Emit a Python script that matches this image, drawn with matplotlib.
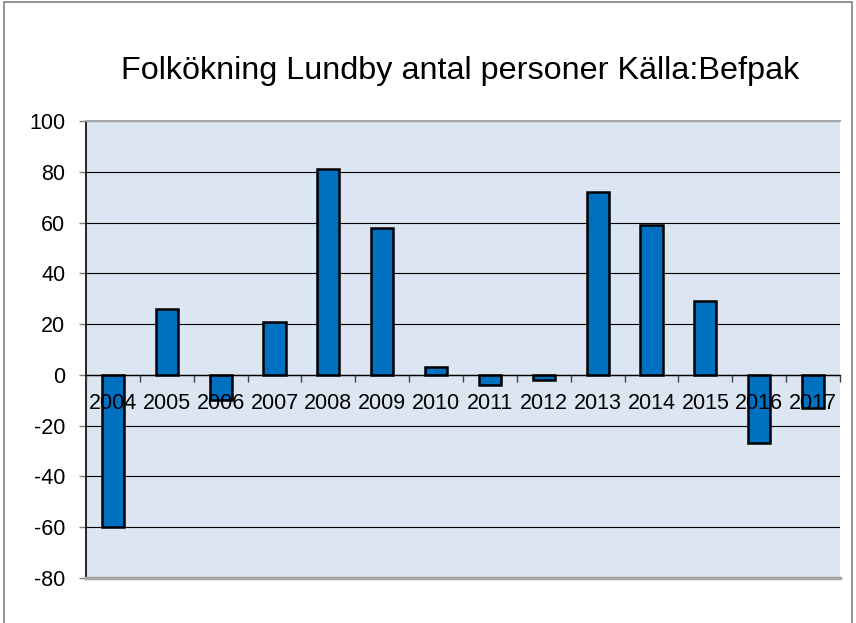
import numpy as np
import matplotlib.pyplot as plt
from matplotlib.patches import Rectangle

# Data
years = ['2004', '2005', '2006', '2007', '2008', '2009', '2010',
         '2011', '2012', '2013', '2014', '2015', '2016', '2017']
growth = [-60, 26, -10, 21, 81, 58, 3, -4, -2, 72, 59, 29, -27, -13]
y_ticks = [-80, -60, -40, -20, 0, 20, 40, 60, 80, 100]

TITLE = 'Folkökning Lundby antal personer Källa:Befpak'
COLOR_BAR = '#0070C0'
COLOR_BG = '#DCE6F2'
COLOR_FRAME = '#808080'

plt.rcParams['font.family'] = ['Liberation Sans', 'DejaVu Sans']
plt.rcParams['axes.unicode_minus'] = False

fig = plt.figure(figsize=(8.56, 6.23), dpi=100)
ax = fig.add_axes([86 / 856, 1 - 578 / 623, 754 / 856, 457 / 623])
ax.set_facecolor(COLOR_BG)

x = np.arange(len(years))
ax.bar(x, growth, width=0.41, color=COLOR_BAR, edgecolor='black',
       linewidth=1.8, zorder=3)

ax.set_xlim(-0.5, len(years) - 0.5)
ax.set_ylim(y_ticks[0], y_ticks[-1])
ax.set_yticks(y_ticks)
ax.yaxis.grid(True, color='black', linewidth=0.8)
# grid below the bars, category labels on top of them
ax.yaxis.set_zorder(0.5)
ax.xaxis.set_zorder(5)

# category axis sits on the zero line
ax.spines['bottom'].set_position(('data', 0))
ax.spines['bottom'].set_color('black')
ax.spines['bottom'].set_linewidth(1.0)
ax.spines['bottom'].set_zorder(4)
ax.spines['left'].set_color('black')
ax.spines['left'].set_linewidth(1.2)
ax.spines['top'].set_color('#A6A6A6')
ax.spines['top'].set_linewidth(1.5)
ax.spines['right'].set_visible(False)
ax.axhline(y_ticks[0], color='#A6A6A6', linewidth=2.5, clip_on=False, zorder=4)

ax.set_xticks(x)
ax.set_xticklabels(years)
ax.set_xticks(np.arange(len(years) + 1) - 0.5, minor=True)
ax.tick_params(axis='x', which='major', length=0, pad=13, labelsize=15.5)
ax.tick_params(axis='x', which='minor', length=5, direction='out',
               color='#404040', width=1)
ax.tick_params(axis='y', length=5, width=1, color=COLOR_FRAME, pad=10,
               labelsize=15.5)

fig.text(0.538, 0.886, TITLE, ha='center', va='center', fontsize=23.3)

# outer chart frame
fig.patches.append(Rectangle((4 / 856, -0.05), 848 / 856, 1.05 - 2 / 623,
                             transform=fig.transFigure, fill=False,
                             edgecolor=COLOR_FRAME, linewidth=1.2))

fig.savefig('out.png', dpi=100)
